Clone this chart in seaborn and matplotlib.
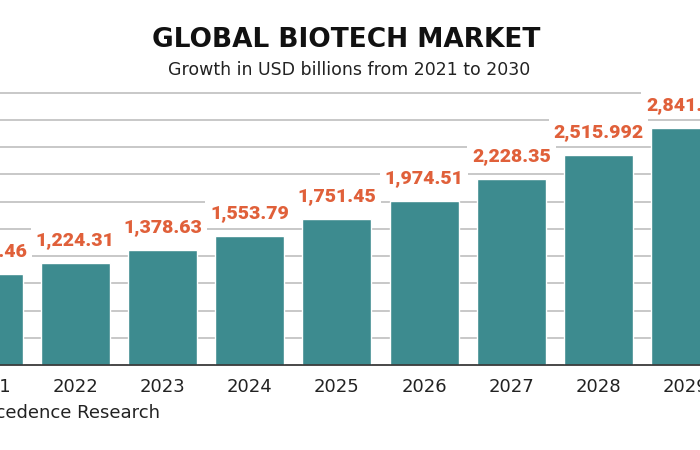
import matplotlib
matplotlib.use("Agg")
import matplotlib.pyplot as plt
import numpy as np
import pandas as pd
import seaborn as sns

# ---- data ----
years = ["2021", "2022", "2023", "2024", "2025", "2026", "2027", "2028", "2029"]
values = [1087.46, 1224.31, 1378.63, 1553.79, 1751.45, 1974.51, 2228.35, 2515.992, 2841.62]
labels = ["1,087.46", "1,224.31", "1,378.63", "1,553.79", "1,751.45", "1,974.51",
          "2,228.35", "2,515.992", "2,841.62"]
title = "GLOBAL BIOTECH MARKET"
subtitle = "Growth in USD billions from 2021 to 2030"
source = "Source: Precedence Research"

df = pd.DataFrame({"year": years, "value": values})

sns.set_theme(style="white")
plt.rcParams["font.family"] = ["DejaVu Sans"]

W, H = 700, 450
fig = plt.figure(figsize=(7, 4.5), dpi=100)
fig.patch.set_facecolor("white")

# axes placed so the chart appears cropped at left and right like the reference
px0, px1 = -55.5, 729.3
base_y, top_y = 365, 92.7
ax = fig.add_axes([px0 / W, (H - base_y) / H, (px1 - px0) / W, (base_y - top_y) / H])

TEAL = "#3D8B8F"
ORANGE = "#E0603A"

sns.barplot(data=df, x="year", y="value", color=TEAL, saturation=1, width=0.79, ax=ax, zorder=3)

YMAX = 3270
ax.set_ylim(0, YMAX)
ax.set_xlim(-0.5, len(years) - 0.5)
ax.set_yticks(np.linspace(0, YMAX, 11))
ax.yaxis.grid(True, color="#C4C4C4", linewidth=1.3, zorder=0)
ax.set_axisbelow(True)
for gl in ax.get_ygridlines():
    gl.set_clip_on(False)
ax.tick_params(axis="y", left=False, labelleft=False)
ax.tick_params(axis="x", bottom=False, pad=3, labelsize=13, labelcolor="#222222")
for s in ["top", "left", "right"]:
    ax.spines[s].set_visible(False)
ax.spines["bottom"].set_color("#333333")
ax.spines["bottom"].set_linewidth(1.2)
ax.spines["bottom"].set_zorder(4)
ax.set_xlabel("")
ax.set_ylabel("")

for i, (v, lab) in enumerate(zip(values, labels)):
    ax.annotate(lab, xy=(i, v), xytext=(0, 16.5), textcoords="offset points",
                ha="center", va="center", fontsize=14, fontweight="heavy",
                color=ORANGE, family=["Roboto", "DejaVu Sans"], zorder=5,
                bbox=dict(boxstyle="square,pad=0.25", fc="white", ec="none"))

fig.text(346 / W, 1 - 40 / H, title, ha="center", va="center",
         fontsize=19, fontweight="heavy", color="#111111")
fig.text(349 / W, 1 - 70 / H, subtitle, ha="center", va="center",
         fontsize=12.5, color="#222222")
fig.text(160 / W, 1 - 413 / H, source, ha="right", va="center",
         fontsize=13, color="#222222")

fig.savefig("out.png", dpi=100, facecolor="white")
